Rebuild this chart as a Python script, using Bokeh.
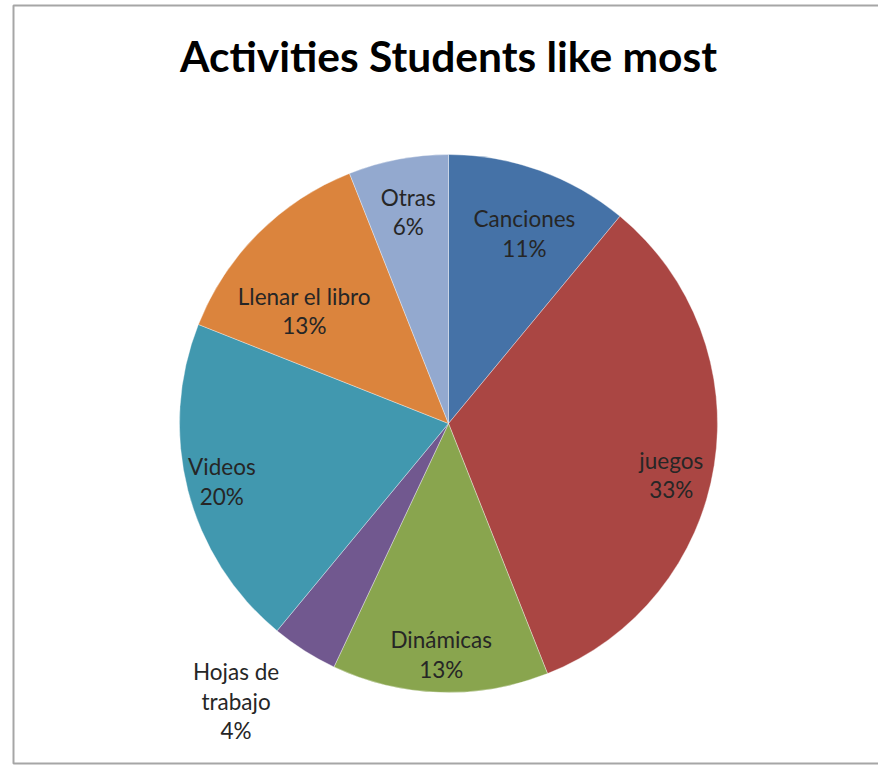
import math
from bokeh.plotting import figure
from bokeh.models import ColumnDataSource, Range1d
from bokeh.core.properties import value
from bokeh.embed import file_html
from bokeh.resources import INLINE

# ---- data ----
categories = ["Canciones", "juegos", "Dinámicas", "Hojas de trabajo", "Videos", "Llenar el libro", "Otras"]
label_texts = ["Canciones", "juegos", "Dinámicas", "Hojas de\ntrabajo", "Videos", "Llenar el libro", "Otras"]
percentages = [11, 33, 13, 4, 20, 13, 6]
colors = ["#4572A7", "#AA4643", "#89A54E", "#71588F", "#4198AF", "#DB843D", "#93A9CF"]
title_text = "Activities Students like most"

# ---- layout (pixel-like data space) ----
W, H = 878, 765
cx, cy, r = 448, H - 423, 269
label_radius_factor = [0.76, 0.85, 0.86, 1.30, 0.87, 0.68, 0.80]
label_angle_shift = [2, 4, 0, 5, 0, -7, 0]  # degrees, clockwise

total = float(sum(percentages))
starts, ends, lx, ly, ltxt = [], [], [], [], []
cum = 0.0
for i, v in enumerate(percentages):
    a0 = math.pi / 2 - 2 * math.pi * cum / total
    a1 = math.pi / 2 - 2 * math.pi * (cum + v) / total
    starts.append(a0)
    ends.append(a1)
    mid = (a0 + a1) / 2 - math.radians(label_angle_shift[i])
    rr = r * label_radius_factor[i]
    lx.append(cx + rr * math.cos(mid))
    ly.append(cy + rr * math.sin(mid))
    ltxt.append(f"{label_texts[i]}\n{v}%")
    cum += v

src = ColumnDataSource(dict(cat=categories, pct=percentages, color=colors,
                            start=starts, end=ends, lx=lx, ly=ly, txt=ltxt))

p = figure(width=W, height=H, output_backend="svg", toolbar_location=None,
           x_range=Range1d(0, W), y_range=Range1d(0, H),
           min_border=0, min_border_left=0, min_border_right=0,
           min_border_top=0, min_border_bottom=0)
p.axis.visible = False
p.grid.visible = False
p.outline_line_color = None
p.background_fill_color = "white"
p.border_fill_color = "white"

# chart frame
p.quad(left=[13], right=[W + 5], bottom=[2], top=[H - 5],
       fill_color=None, line_color="#a6a6a6", line_width=2)

p.wedge(x=cx, y=cy, radius=r, start_angle="start", end_angle="end",
        direction="clock", fill_color="color", line_color="#ffffff",
        line_alpha=0.35, line_width=1, source=src)

p.text(x="lx", y="ly", text="txt", source=src, text_align="center",
       text_baseline="middle", text_font=value("Lato"), text_font_size="22.5px",
       text_color="#262626", text_line_height=1.1)

p.text(x=[cx], y=[H - 55], text=[title_text], text_align="center",
       text_baseline="middle", text_font=value("Lato"), text_font_size="42.5px",
       text_font_style="bold", text_color="#000000")

open("out.html", "w").write(file_html(p, INLINE))
